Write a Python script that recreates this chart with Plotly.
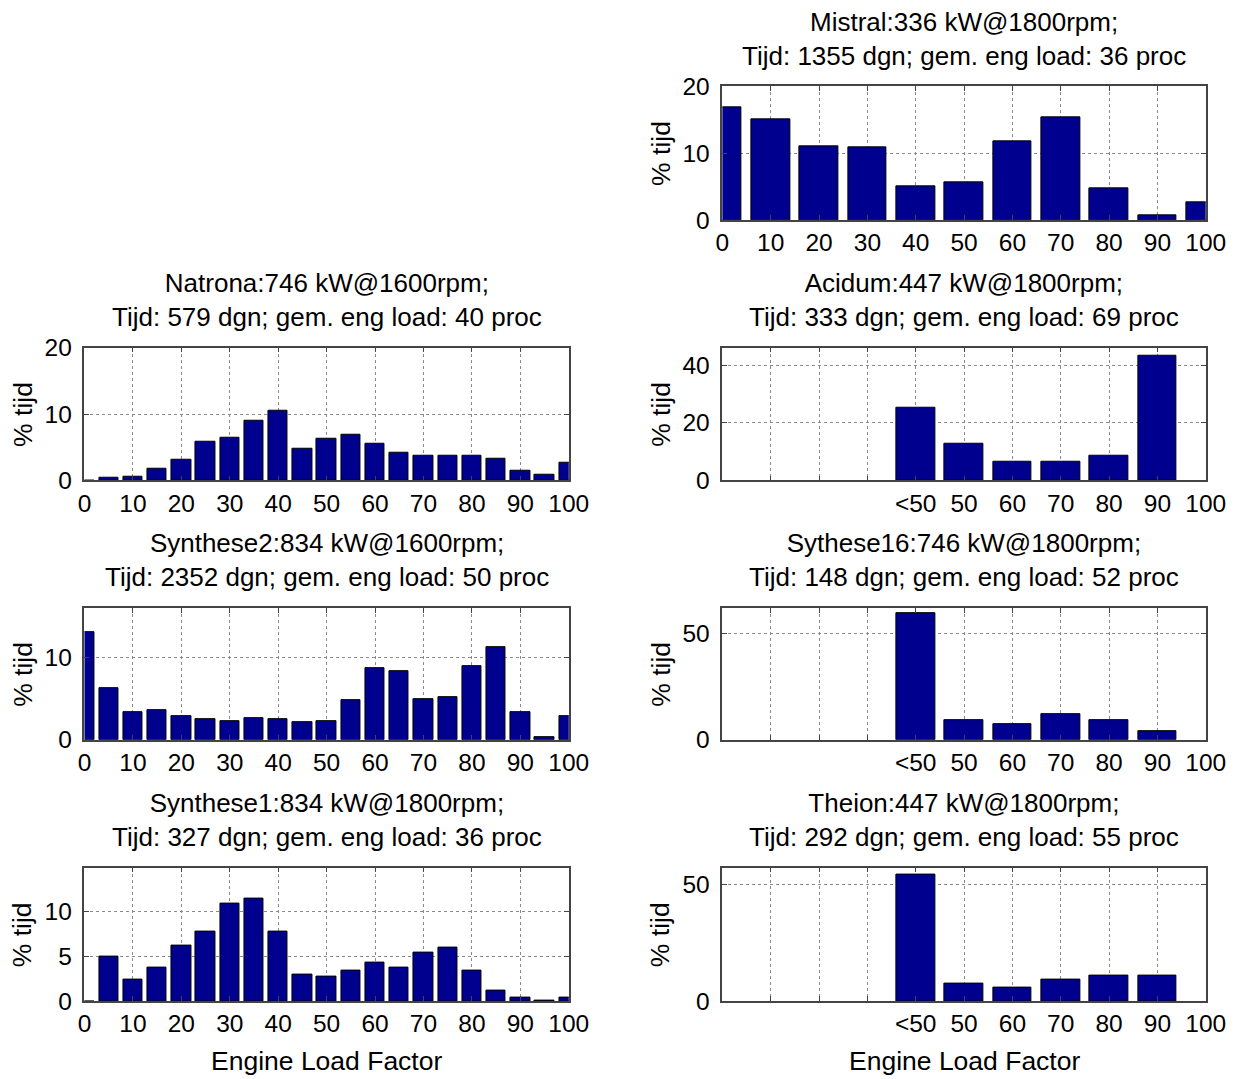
"""
Engine load factor histograms per vessel (% of time per load bin).
"""
import plotly.graph_objects as go

# --- data -------------------------------------------------------------
fine_bins = list(range(0, 101, 5))          # 5 % load bins
coarse_bins = list(range(0, 101, 10))       # 10 % load bins
high_bins = [40, 50, 60, 70, 80, 90]        # first bin is "<50"

mistral_pct = [16.9, 15.1, 11.0, 10.8, 5.0, 5.7, 11.7, 15.3, 4.8, 0.7, 2.6]
natrona_pct = [0, 0.4, 0.6, 1.8, 3.1, 5.9, 6.5, 9.0, 10.5, 4.7, 6.3,
               6.9, 5.5, 4.1, 3.7, 3.7, 3.7, 3.3, 1.4, 0.8, 2.7]
synthese2_pct = [13.0, 6.2, 3.4, 3.6, 2.9, 2.45, 2.3, 2.6, 2.45, 2.1, 2.3,
                 4.75, 8.6, 8.3, 4.9, 5.2, 8.9, 11.2, 3.3, 0.3, 2.9]
synthese1_pct = [0, 5.0, 2.4, 3.8, 6.15, 7.75, 10.9, 11.45, 7.75, 3.0, 2.7,
                 3.45, 4.35, 3.8, 5.4, 5.95, 3.45, 1.2, 0.45, 0.1, 0.45]
acidum_pct = [25.1, 12.6, 6.5, 6.5, 8.4, 43.2]
sythese16_pct = [59.4, 9.4, 7.5, 12.0, 9.4, 4.2]
theion_pct = [54.3, 7.7, 6.0, 9.4, 11.1, 10.9]

plain_ticks = [str(v) for v in coarse_bins]
high_ticks = ["", "", "", "", "<50", "50", "60", "70", "80", "90", "100"]

W, H = 1250, 1095
FONT = "Liberation Sans, Arial, sans-serif"
BAR_COLOR = "#00008F"

# (title line 1, line 2, x, y, bar width, col, row, y max, y ticks, x ticktext)
panels = [
    ("Mistral:336 kW@1800rpm;", "Tijd: 1355 dgn; gem. eng load: 36 proc",
     coarse_bins, mistral_pct, 8, 1, 0, 20, [0, 10, 20], plain_ticks),
    ("Natrona:746 kW@1600rpm;", "Tijd: 579 dgn; gem. eng load: 40 proc",
     fine_bins, natrona_pct, 4, 0, 1, 20, [0, 10, 20], plain_ticks),
    ("Acidum:447 kW@1800rpm;", "Tijd: 333 dgn; gem. eng load: 69 proc",
     high_bins, acidum_pct, 8, 1, 1, 46, [0, 20, 40], high_ticks),
    ("Synthese2:834 kW@1600rpm;", "Tijd: 2352 dgn; gem. eng load: 50 proc",
     fine_bins, synthese2_pct, 4, 0, 2, 15.9, [0, 10], plain_ticks),
    ("Sythese16:746 kW@1800rpm;", "Tijd: 148 dgn; gem. eng load: 52 proc",
     high_bins, sythese16_pct, 8, 1, 2, 61.7, [0, 50], high_ticks),
    ("Synthese1:834 kW@1800rpm;", "Tijd: 327 dgn; gem. eng load: 36 proc",
     fine_bins, synthese1_pct, 4, 0, 3, 14.9, [0, 5, 10], plain_ticks),
    ("Theion:447 kW@1800rpm;", "Tijd: 292 dgn; gem. eng load: 55 proc",
     high_bins, theion_pct, 8, 1, 3, 57.3, [0, 50], high_ticks),
]

# plot area positions in figure pixels
col_x = [(71, 566), (723, 1217)]
row_y = [(67, 204), (335, 471), (602, 737), (868, 1005)]
XLABEL_Y = 1066


def px(x):
    return x / W


def py(y):
    return 1 - y / H


fig = go.Figure()
annotations = []

for i, (t1, t2, xs, ys, bw, col, row, ymax, yticks, xtext) in enumerate(panels):
    n = "" if i == 0 else str(i + 1)
    x0, x1 = col_x[col]
    y0, y1 = row_y[row]

    fig.add_trace(go.Bar(
        x=xs, y=ys, width=bw,
        marker=dict(color=BAR_COLOR, line=dict(color="black", width=1)),
        xaxis="x" + n, yaxis="y" + n, showlegend=False,
    ))

    axis_common = dict(
        showline=True, mirror="ticks", linecolor="#444", linewidth=1.5,
        ticks="inside", ticklen=5, tickcolor="#444",
        showgrid=True, gridcolor="#8a8a8a", griddash="dot", gridwidth=1,
        zeroline=False, tickfont=dict(size=24.5, color="black", family=FONT),
    )
    fig.layout["xaxis" + n] = dict(
        axis_common, domain=[px(x0), px(x1)], anchor="y" + n,
        range=[0, 100], tickvals=coarse_bins, ticktext=xtext,
    )
    fig.layout["yaxis" + n] = dict(
        axis_common, domain=[py(y1), py(y0)], anchor="x" + n,
        range=[0, ymax], tickvals=yticks, ticklabelstandoff=6,
    )

    # two-line title above each panel
    annotations.append(dict(
        text=t1 + "<br>" + t2, xref="paper", yref="paper",
        x=px((x0 + x1) / 2), y=py(y0 - 49),
        xanchor="center", yanchor="middle", showarrow=False,
        font=dict(size=26, color="black", family=FONT),
    ))
    # y label
    annotations.append(dict(
        text="% tijd", xref="paper", yref="paper", textangle=-90,
        x=px(x0 - 63), y=py((y0 + y1) / 2),
        xanchor="center", yanchor="middle", showarrow=False,
        font=dict(size=26.5, color="black", family=FONT),
    ))

# x labels under the bottom row
for x0, x1 in col_x:
    annotations.append(dict(
        text="Engine Load Factor", xref="paper", yref="paper",
        x=px((x0 + x1) / 2), y=py(XLABEL_Y),
        xanchor="center", yanchor="middle", showarrow=False,
        font=dict(size=26.5, color="black", family=FONT),
    ))

fig.update_layout(
    width=W, height=H,
    margin=dict(l=0, r=0, t=0, b=0),
    paper_bgcolor="white", plot_bgcolor="white",
    annotations=annotations,
    bargap=0,
)

fig.write_html("out.html")
